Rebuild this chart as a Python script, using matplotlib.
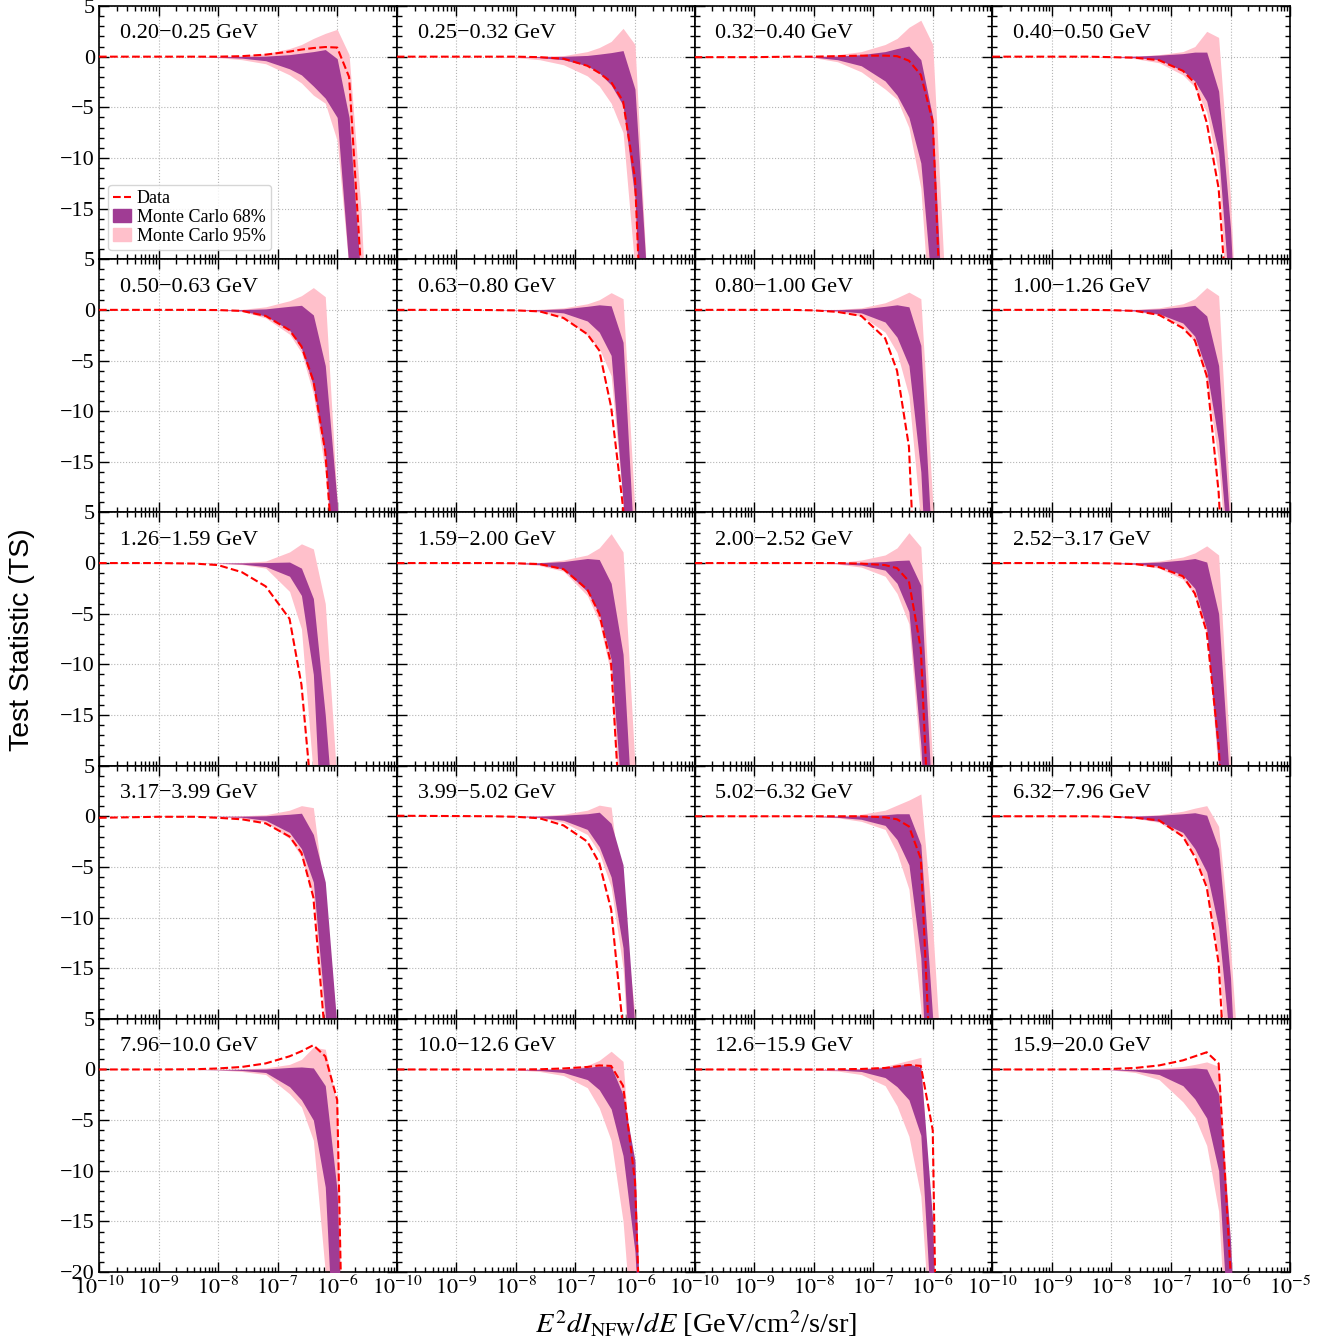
import numpy as np
import matplotlib.pyplot as plt
from matplotlib.ticker import LogLocator, MultipleLocator, NullFormatter
from matplotlib.lines import Line2D
from matplotlib.patches import Patch

plt.rcParams['font.family'] = 'serif'
plt.rcParams['font.serif'] = ['Liberation Serif', 'DejaVu Serif']
plt.rcParams['mathtext.fontset'] = 'stix'

log_x = [-10, -9, -8.4, -8.0, -7.6, -7.2, -6.8, -6.6, -6.4, -6.2, -6.0, -5.8, -5.6, -5.4]

bins = ['0.20\u22120.25 GeV', '0.25\u22120.32 GeV', '0.32\u22120.40 GeV', '0.40\u22120.50 GeV',
        '0.50\u22120.63 GeV', '0.63\u22120.80 GeV', '0.80\u22121.00 GeV', '1.00\u22121.26 GeV',
        '1.26\u22121.59 GeV', '1.59\u22122.00 GeV', '2.00\u22122.52 GeV', '2.52\u22123.17 GeV',
        '3.17\u22123.99 GeV', '3.99\u22125.02 GeV', '5.02\u22126.32 GeV', '6.32\u22127.96 GeV',
        '7.96\u221210.0 GeV', '10.0\u221212.6 GeV', '12.6\u221215.9 GeV', '15.9\u221220.0 GeV']

# data TS curves
ts_data = [
    [0, 0, 0, 0, 0.05, 0.2, 0.5, 0.7, 0.85, 0.95, 0.9, -2, -21, -40],
    [0, 0, 0, 0, -0.05, -0.2, -0.9, -1.6, -2.5, -4.4, -12, -40, -40, -40],
    [-0.05, -0.05, 0, 0, 0.05, 0.1, 0.1, 0.05, -0.4, -1.8, -6.4, -35, -40, -40],
    [0, 0, 0, -0.05, -0.1, -0.35, -1.4, -2.6, -6.5, -13, -30, -40, -40, -40],
    [0, 0, 0, -0.02, -0.1, -0.6, -2.0, -3.6, -7.0, -14, -30, -40, -40, -40],
    [0, 0, -0.02, -0.05, -0.15, -0.8, -2.4, -4.0, -9.6, -19.5, -40, -40, -40, -40],
    [0, 0, 0, -0.05, -0.2, -0.6, -2.8, -6.0, -13.5, -40, -40, -40, -40, -40],
    [0, 0, 0, -0.03, -0.1, -0.5, -1.8, -3.0, -6.5, -18, -40, -40, -40, -40],
    [0, 0, -0.05, -0.2, -0.9, -2.3, -5.5, -12, -25, -40, -40, -40, -40, -40],
    [0, 0, 0, -0.02, -0.1, -0.6, -2.6, -5.0, -10, -30, -40, -40, -40, -40],
    [0, 0, 0, 0, 0, -0.05, -0.2, -0.5, -1.8, -8.5, -35, -40, -40, -40],
    [0, 0, 0, -0.03, -0.1, -0.4, -1.3, -3.0, -6.8, -18, -40, -40, -40, -40],
    [-0.15, -0.05, -0.05, -0.15, -0.3, -0.7, -2.0, -3.6, -8, -22, -40, -40, -40, -40],
    [0.05, 0.02, 0, -0.05, -0.2, -0.9, -2.5, -4.6, -9.2, -21, -40, -40, -40, -40],
    [0, 0, 0, 0, 0, 0, -0.1, -0.3, -1.0, -4.2, -30, -40, -40, -40],
    [0, 0, 0, -0.05, -0.15, -0.4, -2.0, -4.0, -7, -14.5, -35, -40, -40, -40],
    [0, 0, 0.02, 0.1, 0.25, 0.6, 1.3, 1.8, 2.4, 1.3, -3, -60, -60, -60],
    [0, 0, 0, 0, 0.02, 0.1, 0.25, 0.4, 0.35, -1.6, -11, -45, -45, -45],
    [0, 0, 0, 0, 0.02, 0.05, 0.15, 0.3, 0.45, 0.35, -6, -80, -80, -80],
    [0, 0, 0.02, 0.05, 0.15, 0.4, 0.9, 1.3, 1.7, 0.6, -20, -60, -60, -60],
]

# Monte Carlo 95% band, upper edge
mc95_hi = [
    [0, 0, 0, 0.02, 0.1, 0.3, 0.8, 1.2, 1.8, 2.3, 2.7, 0.2, -15, -40],
    [0, 0, 0, 0, 0.05, 0.1, 0.5, 0.9, 1.5, 2.8, 1.2, -22, -40, -40],
    [0, 0, 0, 0.05, 0.2, 0.5, 1.2, 1.8, 2.9, 3.6, 1.2, -22, -40, -40],
    [0, 0, 0, 0, 0.05, 0.2, 0.5, 1.0, 2.5, 1.9, -14, -40, -40, -40],
    [0, 0, 0, 0, 0.05, 0.3, 0.9, 1.4, 2.2, 1.3, -19, -40, -40, -40],
    [0, 0, 0, 0, 0.05, 0.2, 0.6, 1.0, 1.7, 1.1, -20, -40, -40, -40],
    [0, 0, 0, 0, 0.05, 0.2, 0.7, 1.2, 1.75, 1.1, -19, -40, -40, -40],
    [0, 0, 0, 0, 0.05, 0.2, 0.6, 1.1, 2.2, 1.4, -20, -40, -40, -40],
    [0, 0, 0, 0, 0.05, 0.2, 1.1, 1.9, 1.4, -4, -22, -40, -40, -40],
    [0, 0, 0, 0, 0.05, 0.3, 0.8, 1.5, 2.9, 1.1, -20, -40, -40, -40],
    [0, 0, 0, 0, 0.05, 0.3, 0.8, 1.5, 3.0, 1.6, -20, -40, -40, -40],
    [0, 0, 0, 0, 0.05, 0.2, 0.6, 1.0, 1.7, 0.8, -20, -40, -40, -40],
    [0, 0, 0, 0, 0.05, 0.15, 0.6, 1.05, 0.85, -8.5, -21, -40, -40, -40],
    [0, 0, 0, 0, 0.05, 0.2, 0.6, 1.1, 0.9, -9, -19.5, -40, -40, -40],
    [0, 0, 0, 0, 0.05, 0.2, 0.6, 1.1, 1.6, 2.2, -11, -30, -40, -40],
    [0, 0, 0, 0, 0.05, 0.15, 0.5, 0.8, 1.05, -1.0, -13, -30, -40, -40],
    [0, 0, 0, 0.02, 0.05, 0.15, 0.5, 1.0, 2.2, 2.0, -3.5, -60, -60, -60],
    [0, 0, 0, 0, 0.05, 0.1, 0.4, 0.9, 1.8, 0.8, -15, -40, -40, -40],
    [0, 0, 0, 0, 0.02, 0.1, 0.3, 0.6, 0.9, 1.2, -19, -40, -40, -40],
    [0, 0, 0, 0, 0.03, 0.1, 0.3, 0.5, 0.75, 0.3, -17, -40, -40, -40],
]

# Monte Carlo 68% band, upper edge
mc68_hi = [
    [0, 0, 0, 0, 0.02, 0.05, 0.2, 0.35, 0.5, 0.7, -0.2, -6, -22, -40],
    [0, 0, 0, 0, 0, 0.03, 0.12, 0.25, 0.4, 0.6, -3.2, -22, -40, -40],
    [0, 0, 0, 0, 0.05, 0.2, 0.5, 0.8, 1.05, -0.3, -6, -30, -40, -40],
    [0, 0, 0, 0, 0.05, 0.15, 0.3, 0.45, 0.45, -3.4, -17, -40, -40, -40],
    [0, 0, 0, 0, 0.02, 0.1, 0.35, 0.45, -0.5, -5.5, -19, -40, -40, -40],
    [0, 0, 0, 0, 0.02, 0.1, 0.35, 0.5, 0.4, -3.2, -25, -40, -40, -40],
    [0, 0, 0, 0, 0.02, 0.1, 0.35, 0.5, 0.3, -3.5, -25, -40, -40, -40],
    [0, 0, 0, 0, 0.02, 0.1, 0.3, 0.45, -0.6, -5.5, -22, -40, -40, -40],
    [0, 0, 0, 0, 0.02, 0.05, 0.1, -0.5, -3.5, -15, -30, -40, -40, -40],
    [0, 0, 0, 0, 0.03, 0.15, 0.45, 0.35, -2, -9, -30, -40, -40, -40],
    [0, 0, 0, 0, 0.01, 0.05, 0.15, 0.25, 0.3, -2.2, -25, -40, -40, -40],
    [0, 0, 0, 0, 0.02, 0.1, 0.3, 0.45, 0.1, -5, -23, -40, -40, -40],
    [0, 0, 0, 0, 0.01, 0.05, 0.2, 0.3, -1.8, -6.5, -21, -40, -40, -40],
    [0, 0, 0, 0, 0.02, 0.1, 0.25, 0.4, -0.7, -4.8, -21, -40, -40, -40],
    [0, 0, 0, 0, 0.01, 0.05, 0.15, 0.25, 0.25, -2.8, -20, -40, -40, -40],
    [0, 0, 0, 0, 0.02, 0.1, 0.25, 0.35, 0.1, -3.2, -16, -40, -40, -40],
    [0, 0, 0, 0, 0.02, 0.05, 0.2, 0.25, 0.15, -1.6, -12, -50, -60, -60],
    [0, 0, 0, 0, 0.02, 0.05, 0.2, 0.35, 0.3, -2.5, -9, -45, -45, -45],
    [0, 0, 0, 0, 0.01, 0.05, 0.2, 0.4, 0.55, 0.2, -15, -60, -60, -60],
    [0, 0, 0, 0, 0.01, 0.02, 0.1, 0.15, 0.05, -2.4, -17, -45, -45, -45],
]

# Monte Carlo 68% band, lower edge
mc68_lo = [
    [0, 0, 0, -0.05, -0.15, -0.4, -1.2, -1.8, -2.9, -4.1, -6, -21, -40, -40],
    [0, 0, 0, 0, -0.1, -0.3, -0.9, -1.6, -2.8, -4.8, -14, -40, -40, -40],
    [0, 0, 0, -0.05, -0.3, -0.9, -2.4, -3.8, -6.0, -10.5, -24, -40, -40, -40],
    [0, 0, 0, -0.02, -0.1, -0.3, -1.4, -2.4, -4.4, -9.5, -25, -40, -40, -40],
    [0, 0, 0, -0.02, -0.1, -0.6, -2.0, -3.8, -7.5, -14.5, -30, -40, -40, -40],
    [0, 0, 0, -0.02, -0.1, -0.3, -1.1, -2.2, -4.5, -19, -40, -40, -40, -40],
    [0, 0, 0, -0.02, -0.1, -0.3, -1.2, -2.7, -5.5, -16, -40, -40, -40, -40],
    [0, 0, 0, -0.02, -0.1, -0.4, -1.3, -2.6, -6, -13, -27, -40, -40, -40],
    [0, 0, 0, -0.02, -0.1, -0.35, -1.3, -3.2, -11, -35, -40, -40, -40, -40],
    [0, 0, 0, -0.02, -0.15, -0.6, -2.8, -5, -9.5, -25, -40, -40, -40, -40],
    [0, 0, 0, 0, -0.05, -0.2, -0.7, -2.0, -4.8, -18, -40, -40, -40, -40],
    [0, 0, 0, -0.02, -0.1, -0.3, -1.2, -2.5, -6.5, -20, -40, -40, -40, -40],
    [0, 0, 0, -0.02, -0.1, -0.4, -1.6, -3.2, -6.5, -19.5, -40, -40, -40, -40],
    [0, 0, 0, -0.02, -0.1, -0.4, -1.3, -3.0, -6, -13, -35, -40, -40, -40],
    [0, 0, 0, -0.02, -0.1, -0.3, -0.9, -2.3, -4.8, -14, -40, -40, -40, -40],
    [0, 0, 0, -0.02, -0.15, -0.5, -1.6, -3.2, -5.5, -11, -23, -40, -40, -40],
    [0, 0, 0, -0.03, -0.1, -0.3, -1.7, -3.0, -5, -11.6, -35, -60, -60, -60],
    [0, 0, 0, -0.02, -0.1, -0.3, -1.0, -2.0, -3.9, -8.5, -18, -40, -40, -40],
    [0, 0, 0, -0.02, -0.05, -0.2, -0.8, -1.7, -3.0, -6.5, -27, -40, -40, -40],
    [0, 0, 0, -0.02, -0.15, -0.5, -1.6, -2.9, -4.8, -10, -30, -40, -40, -40],
]

# Monte Carlo 95% band, lower edge
mc95_lo = [
    [0, 0, 0, -0.1, -0.3, -0.7, -1.8, -2.6, -3.8, -4.6, -8.3, -21, -40, -40],
    [0, 0, 0, -0.1, -0.3, -0.8, -1.9, -2.9, -4.6, -7.5, -21, -40, -40, -40],
    [0, 0, 0, -0.1, -0.5, -1.5, -3.2, -4.2, -7.0, -13, -30, -40, -40, -40],
    [0, 0, 0, -0.05, -0.2, -0.6, -1.8, -3.0, -5.5, -11.5, -30, -40, -40, -40],
    [0, 0, 0, -0.05, -0.15, -0.8, -2.4, -4.2, -8.3, -16, -30, -40, -40, -40],
    [0, 0, 0, -0.05, -0.2, -0.7, -2.5, -3.8, -6.5, -19, -40, -40, -40, -40],
    [0, 0, 0, -0.05, -0.2, -0.6, -2.2, -4.2, -8.5, -21, -40, -40, -40, -40],
    [0, 0, 0, -0.05, -0.15, -0.5, -1.7, -3.2, -7, -15, -30, -40, -40, -40],
    [0, 0, 0, -0.05, -0.15, -0.5, -2.8, -6.5, -21, -40, -40, -40, -40, -40],
    [0, 0, 0, -0.05, -0.25, -0.8, -3.2, -5.8, -11, -30, -40, -40, -40, -40],
    [0, 0, 0, -0.02, -0.1, -0.4, -1.3, -3.0, -6, -20, -40, -40, -40, -40],
    [0, 0, 0, -0.05, -0.15, -0.5, -1.6, -3.2, -7, -21, -40, -40, -40, -40],
    [0, 0, 0, -0.05, -0.2, -0.6, -2.2, -4.0, -8, -21, -40, -40, -40, -40],
    [0, 0, 0, -0.05, -0.15, -0.6, -1.8, -3.6, -7, -15, -35, -40, -40, -40],
    [0, 0, 0, -0.05, -0.15, -0.5, -1.3, -3.6, -7.2, -19, -40, -40, -40, -40],
    [0, 0, 0, -0.05, -0.2, -0.6, -2.0, -3.8, -6.8, -14, -30, -40, -40, -40],
    [0, 0, 0, -0.05, -0.2, -0.5, -2.4, -3.7, -7, -20, -40, -60, -60, -60],
    [0, 0, 0, -0.05, -0.2, -0.6, -1.8, -3.8, -7.0, -15, -30, -40, -40, -40],
    [0, 0, 0, -0.05, -0.15, -0.5, -1.6, -3.6, -6.6, -12.5, -30, -40, -40, -40],
    [0, 0, 0, -0.05, -0.3, -1.0, -3.2, -4.7, -7.5, -14, -35, -40, -40, -40],
]

c68 = '#a03c94'
c95 = '#ffc0cb'

x = 10.0 ** np.array(log_x)
x_ticks = [1e-10, 1e-9, 1e-8, 1e-7, 1e-6, 1e-5]
x_labels = [r'$10^{-10}$', r'$10^{-9}$', r'$10^{-8}$', r'$10^{-7}$', r'$10^{-6}$', r'$10^{-5}$']
y_ticks = [-20, -15, -10, -5, 0, 5]
y_labels = ['\u221220', '\u221215', '\u221210', '\u22125', '0', '5']

fig, axes = plt.subplots(5, 4, figsize=(13.3, 13.38), dpi=100)
plt.subplots_adjust(left=0.0744, right=0.970, top=0.9955, bottom=0.0493, wspace=0, hspace=0)

for i, ax in enumerate(axes.flat):
    row, col = divmod(i, 4)
    ax.fill_between(x, mc95_lo[i], mc95_hi[i], color=c95, lw=0, zorder=2)
    ax.fill_between(x, mc68_lo[i], mc68_hi[i], color=c68, lw=0, zorder=3)
    ax.plot(x, ts_data[i], color='red', ls='--', lw=1.5, zorder=4)
    ax.text(0.07, 0.89, bins[i], transform=ax.transAxes, fontsize=16, va='center', ha='left')

    ax.set_xscale('log')
    ax.set_xlim(1e-10, 1e-5)
    ax.set_ylim(-20, 5)
    ax.set_axisbelow(True)
    ax.grid(True, which='major', ls=':', color='#b5b5b5', lw=0.8)

    ax.set_xticks(x_ticks)
    ax.xaxis.set_minor_locator(LogLocator(base=10, subs=np.arange(2, 10), numticks=20))
    ax.xaxis.set_minor_formatter(NullFormatter())
    if row == 4:
        xl = list(x_labels)
        if col < 3:
            xl[-1] = ''
        ax.set_xticklabels(xl)
    else:
        ax.set_xticklabels([''] * 6)

    ax.set_yticks(y_ticks)
    ax.yaxis.set_minor_locator(MultipleLocator(1))
    if col == 0:
        yl = list(y_labels)
        if row < 4:
            yl[0] = ''
        ax.set_yticklabels(yl)
    else:
        ax.set_yticklabels([''] * 6)

    ax.tick_params(which='both', direction='in', top=True, right=True, labelsize=16, width=1)
    ax.tick_params(which='major', length=7)
    ax.tick_params(which='minor', length=3.5)
    ax.tick_params(axis='x', pad=3)
    ax.tick_params(axis='y', pad=3)
    for s in ax.spines.values():
        s.set_linewidth(1.2)

handles = [Line2D([], [], color='red', ls='--', lw=1.5),
           Patch(color=c68), Patch(color=c95)]
axes[0, 0].legend(handles, ['Data', 'Monte Carlo 68%', 'Monte Carlo 95%'],
                  loc='lower left', fontsize=13, handlelength=1.0, handletextpad=0.3,
                  labelspacing=0.1, borderpad=0.3, borderaxespad=0.5, fancybox=True)

fig.text(0.0165, 0.522, 'Test Statistic (TS)', rotation=90, ha='center', va='center',
         fontsize=20.5, family='Liberation Sans')
fig.text(0.523, 0.011, r'$E^2dI_{\rm NFW}/dE$ [GeV/cm$^2$/s/sr]', ha='center', va='center',
         fontsize=20.5)

plt.savefig('out.png', dpi=100)
